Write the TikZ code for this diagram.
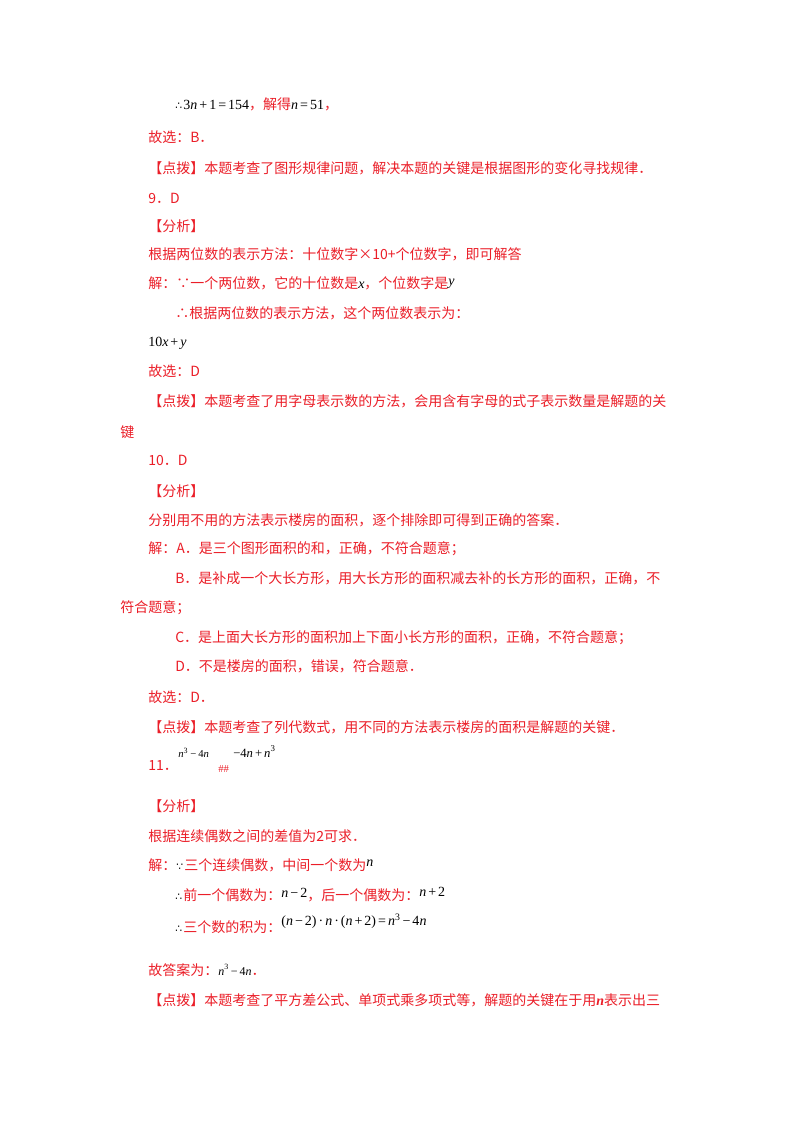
\documentclass[tikz,border=0pt]{standalone}
\usepackage{fontspec}
\setmainfont{Liberation Serif}
\newfontfamily\cjk{Noto Sans CJK SC}
\newfontfamily\symf{DejaVu Sans}
\definecolor{tred}{RGB}{235,30,40}
\newcommand\R[1]{\textcolor{tred}{\cjk #1}}
\newcommand\mv[1]{\textit{#1}}
\newcommand\op[1]{\kern1.5pt#1\kern1.5pt}
\newcommand\tf{{\symf\footnotesize ∴}\kern1pt}
\newcommand\bc{{\symf\footnotesize ∵}\kern1pt}
\tikzset{ln/.style={anchor=base west,inner sep=0pt,font=\fontsize{10.5}{12}\selectfont}}
\begin{document}
\begin{tikzpicture}[x=0.75pt,y=-0.75pt]
\useasboundingbox[fill=white] (0,0) rectangle (800,1132);
\node[ln] (l1) at (175,109) {\tf3\mv{n}\op{+}1\op{=}154\R{，解得}\mv{n}\op{=}51\R{，}};
\node[ln] (l2) at (148,142) {\R{故选：B．}};
\node[ln] (l3) at (148,173) {\R{【点拨】本题考查了图形规律问题，解决本题的关键是根据图形的变化寻找规律．}};
\node[ln] (l4) at (148,203) {\R{9．D}};
\node[ln] (l5) at (148,231) {\R{【分析】}};
\node[ln] (l6) at (148,259) {\R{根据两位数的表示方法：十位数字×10+个位数字，即可解答}};
\node[ln] (l7) at (148,288) {\R{解：∵一个两位数，它的十位数是}\mv{x}\R{，个位数字是}\raisebox{2pt}{\mv{y}}};
\node[ln] (l8) at (175,318) {\R{∴根据两位数的表示方法，这个两位数表示为：}};
\node[ln] (l9) at (148,346) {10\mv{x}\op{+}\mv{y}};
\node[ln] (l10) at (148,376) {\R{故选：D}};
\node[ln] (l11) at (148,406) {\R{【点拨】本题考查了用字母表示数的方法，会用含有字母的式子表示数量是解题的关}};
\node[ln] (l11b) at (120,437) {\R{键}};
\node[ln] (l12) at (148,465) {\R{10．D}};
\node[ln] (l13) at (148,496) {\R{【分析】}};
\node[ln] (l14) at (148,525) {\R{分别用不用的方法表示楼房的面积，逐个排除即可得到正确的答案．}};
\node[ln] (l15) at (148,553) {\R{解：A．是三个图形面积的和，正确，不符合题意；}};
\node[ln] (l16) at (175,583) {\R{B．是补成一个大长方形，用大长方形的面积减去补的长方形的面积，正确，不}};
\node[ln] (l16b) at (120,612) {\R{符合题意；}};
\node[ln] (l17) at (175,642) {\R{C．是上面大长方形的面积加上下面小长方形的面积，正确，不符合题意；}};
\node[ln] (l18) at (175,671) {\R{D．不是楼房的面积，错误，符合题意．}};
\node[ln] (l19) at (148,702) {\R{故选：D．}};
\node[ln] (l20) at (148,732) {\R{【点拨】本题考查了列代数式，用不同的方法表示楼房的面积是解题的关键．}};
\node[ln] (l21) at (148,770) {\R{11．}};
\node[ln,font=\fontsize{8}{9}\selectfont] (l21a) at (178,757) {\mv{n}\textsuperscript{3}\op{−}4\mv{n}};
\node[ln,font=\fontsize{8}{9}\selectfont] (l21b) at (218,772) {\textcolor{tred}{\#\#}};
\node[ln,font=\fontsize{9.5}{10}\selectfont] (l21c) at (233,757) {−4\mv{n}\op{+}\mv{n}\textsuperscript{3}};
\node[ln] (l22) at (148,811) {\R{【分析】}};
\node[ln] (l23) at (148,841) {\R{根据连续偶数之间的差值为2可求．}};
\node[ln] (l24) at (148,870) {\R{解：}\bc\R{三个连续偶数，中间一个数为}\raisebox{3pt}{\mv{n}}};
\node[ln] (l25) at (175,900) {\tf\R{前一个偶数为：}\raisebox{2pt}{\mv{n}\op{−}2}\R{，后一个偶数为：}\raisebox{3pt}{\mv{n}\op{+}2}};
\node[ln] (l26) at (175,932) {\tf\R{三个数的积为：}\raisebox{5pt}{(\mv{n}\op{−}2)\op{·}\mv{n}\op{·}(\mv{n}\op{+}2)\op{=}\mv{n}\textsuperscript{3}\op{−}4\mv{n}}};
\node[ln] (l27) at (148,975) {\R{故答案为：}{\fontsize{9}{10}\selectfont\mv{n}\textsuperscript{3}\op{−}4\mv{n}}\R{．}};
\node[ln] (l28) at (148,1005) {\R{【点拨】本题考查了平方差公式、单项式乘多项式等，解题的关键在于用}\textcolor{tred}{\textbf{\mv{n}}}\R{表示出三}};
\end{tikzpicture}
\end{document}
